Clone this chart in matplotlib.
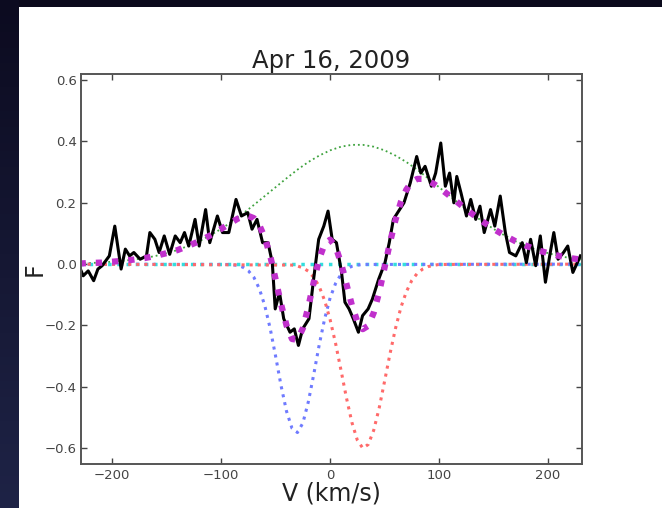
import numpy as np
import matplotlib
matplotlib.use('Agg')
import matplotlib.pyplot as plt
from matplotlib.patches import Rectangle
from matplotlib.colors import LinearSegmentedColormap

# observed profile, velocity (km/s) and flux
v_obs = [-230.6, -226.7, -222.1, -217.1, -213.2, -209.3, -202.7, -197.7, -191.9, -188.0,
         -184.1, -180.2, -174.4, -168.6, -165.5, -160.9, -157.0, -152.3, -147.3, -142.2,
         -137.6, -133.7, -129.8, -124.0, -120.2, -114.3, -110.5, -103.5, -98.8, -93.0,
         -86.4, -81.4, -75.6, -71.7, -67.1, -62.0, -57.0, -53.1, -50.4, -46.5,
         -42.6, -36.8, -32.9, -29.1, -25.2, -19.4, -15.5, -10.5, -5.8, -1.9,
         1.9, 5.8, 10.5, 13.6, 17.4, 21.3, 26.0, 29.8, 34.9, 38.8,
         44.6, 50.4, 54.3, 58.1, 62.0, 67.8, 73.6, 79.5, 83.3, 87.2,
         93.0, 96.9, 101.6, 105.8, 109.7, 113.6, 116.3, 120.2, 125.2, 129.1,
         133.7, 137.6, 141.5, 147.3, 151.2, 156.2, 160.9, 164.7, 170.5, 176.4,
         180.2, 184.1, 188.8, 193.0, 197.7, 201.6, 205.4, 209.3, 214.3, 218.2,
         222.9, 229.8]
F_obs = [-0.005, -0.038, -0.022, -0.054, -0.016, -0.005, 0.027, 0.124, -0.016, 0.049,
         0.027, 0.038, 0.016, 0.027, 0.103, 0.081, 0.038, 0.092, 0.032, 0.092,
         0.070, 0.103, 0.059, 0.146, 0.059, 0.178, 0.070, 0.157, 0.103, 0.103,
         0.211, 0.157, 0.168, 0.114, 0.146, 0.070, 0.070, 0.005, -0.146, -0.092,
         -0.178, -0.222, -0.211, -0.265, -0.211, -0.178, -0.059, 0.081, 0.124, 0.173,
         0.081, 0.070, -0.027, -0.124, -0.146, -0.178, -0.222, -0.168, -0.146, -0.114,
         -0.049, 0.005, 0.070, 0.146, 0.168, 0.200, 0.265, 0.351, 0.297, 0.319,
         0.254, 0.297, 0.395, 0.254, 0.297, 0.200, 0.286, 0.232, 0.157, 0.211,
         0.146, 0.189, 0.103, 0.178, 0.124, 0.222, 0.103, 0.038, 0.027, 0.070,
         0.005, 0.081, -0.005, 0.092, -0.059, 0.027, 0.103, 0.016, 0.038, 0.059,
         -0.027, 0.027]

# broad emission component
v_em = [-230, -220, -210, -200, -190, -180, -170, -160, -150, -140, -130, -120, -110, -100,
        -90, -80, -70, -60, -50, -40, -30, -20, -10, 0, 10, 20, 30, 40, 50, 60, 70, 80,
        90, 100, 110, 120, 130, 140, 150, 160, 170, 180, 190, 200, 210, 220, 230]
F_em = [0.002, 0.004, 0.005, 0.008, 0.011, 0.015, 0.020, 0.027, 0.036, 0.046, 0.060, 0.075,
        0.094, 0.115, 0.139, 0.165, 0.193, 0.222, 0.251, 0.280, 0.308, 0.333, 0.354, 0.371,
        0.383, 0.389, 0.389, 0.383, 0.371, 0.354, 0.333, 0.308, 0.280, 0.251, 0.222, 0.193,
        0.165, 0.139, 0.115, 0.094, 0.075, 0.060, 0.046, 0.036, 0.027, 0.020, 0.015]

# blue-shifted absorption component
v_blue = [-230, -95, -90, -85, -80, -75, -70, -65, -60, -55, -50, -45, -40, -35, -30,
          -25, -20, -15, -10, -5, 0, 5, 10, 15, 20, 25, 30, 230]
F_blue = [0.0, -0.001, -0.002, -0.004, -0.010, -0.022, -0.043, -0.080, -0.135, -0.210,
          -0.301, -0.397, -0.480, -0.535, -0.549, -0.518, -0.449, -0.359, -0.263, -0.178,
          -0.110, -0.063, -0.033, -0.016, -0.007, -0.003, -0.001, 0.0]

# red-shifted absorption component
v_red = [-230, -35, -30, -25, -20, -15, -10, -5, 0, 5, 10, 15, 20, 25, 30, 35, 40, 45,
         50, 55, 60, 65, 70, 75, 80, 85, 90, 95, 100, 230]
F_red = [0.0, -0.003, -0.006, -0.012, -0.023, -0.043, -0.073, -0.119, -0.181, -0.258,
         -0.346, -0.436, -0.516, -0.574, -0.600, -0.588, -0.542, -0.470, -0.382, -0.292,
         -0.210, -0.141, -0.090, -0.053, -0.030, -0.016, -0.008, -0.004, -0.001, 0.0]

# weak central component
v_cen = [-230, 230]
F_cen = [0.0, 0.0]

# total fit
v_fit = [-230, -220, -210, -200, -190, -180, -170, -160, -150, -140, -130, -120, -110, -100,
         -95, -90, -85, -80, -75, -70, -65, -60, -55, -50, -45, -40, -35, -30, -25, -20,
         -15, -10, -5, 0, 5, 10, 15, 20, 25, 30, 35, 40, 45, 50, 55, 60, 65, 70, 75, 80,
         85, 90, 95, 100, 110, 120, 130, 140, 150, 160, 170, 180, 190, 200, 210, 220, 230]
F_fit = [0.002, 0.004, 0.005, 0.008, 0.011, 0.015, 0.020, 0.027, 0.036, 0.046, 0.060, 0.075,
         0.094, 0.115, 0.126, 0.137, 0.148, 0.155, 0.157, 0.150, 0.127, 0.087, 0.027, -0.050,
         -0.131, -0.200, -0.244, -0.247, -0.209, -0.139, -0.058, 0.018, 0.066, 0.080, 0.057,
         0.004, -0.065, -0.134, -0.187, -0.212, -0.201, -0.159, -0.092, -0.011, 0.071, 0.144,
         0.203, 0.243, 0.268, 0.278, 0.278, 0.272, 0.262, 0.250, 0.222, 0.193, 0.165, 0.139,
         0.115, 0.094, 0.075, 0.060, 0.046, 0.036, 0.027, 0.020, 0.015]

W, H = 662, 508
fig = plt.figure(figsize=(W/100, H/100), dpi=100, facecolor='#0b0a1c')

# dark slide edge on the left, white panel for the plot
strip = fig.add_axes([0, 0, 19/W, 1])
cmap = LinearSegmentedColormap.from_list('edge', ['#0c0b20', '#1e2346'])
strip.imshow(np.linspace(0, 1, 64)[:, None], cmap=cmap, aspect='auto')
strip.axis('off')
fig.add_artist(Rectangle((19/W, 0), 1 - 19/W, (H - 7)/H, transform=fig.transFigure,
                         facecolor='white', edgecolor='none', zorder=0))

ax = fig.add_axes([80.7/W, (H - 463.5)/H, 501/W, 389.5/H])
ax.set_facecolor('white')

ax.plot(v_em, F_em, ls=':', color='#3fa33f', lw=1.3)
ax.plot(v_cen, F_cen, ls=':', color='#33dddd', lw=2.5)
ax.plot(v_blue, F_blue, ls=':', color='#6f7bff', lw=2.2)
ax.plot(v_red, F_red, ls=':', color='#ff6a6a', lw=2.2)
ax.plot(v_obs, F_obs, '-', color='black', lw=2.2)
ax.plot(v_fit, F_fit, ls=(0, (1, 1.6)), color='#c030cc', lw=4.5)

ax.set_xlim(-229, 231)
ax.set_ylim(-0.65, 0.62)
ax.set_xticks([-200, -100, 0, 100, 200])
ax.set_yticks([-0.6, -0.4, -0.2, 0.0, 0.2, 0.4, 0.6])

ax.tick_params(direction='in', top=True, right=True, length=4, width=1,
               labelsize=9.5, labelcolor='#444444', color='#444444')
ax.tick_params(axis='x', pad=4)
ax.tick_params(axis='y', pad=3)
for s in ax.spines.values():
    s.set_color('#555555')
    s.set_linewidth(1.4)

ax.set_title('Apr 16, 2009', fontsize=17.5, color='#222222', pad=4)
ax.set_xlabel('V (km/s)', fontsize=17, color='#222222')
ax.set_ylabel('F', fontsize=17, color='#222222')
ax.xaxis.set_label_coords(0.5, -0.046)
ax.yaxis.set_label_coords(-0.068, 0.5)

fig.savefig('out.png', dpi=100, facecolor=fig.get_facecolor())
